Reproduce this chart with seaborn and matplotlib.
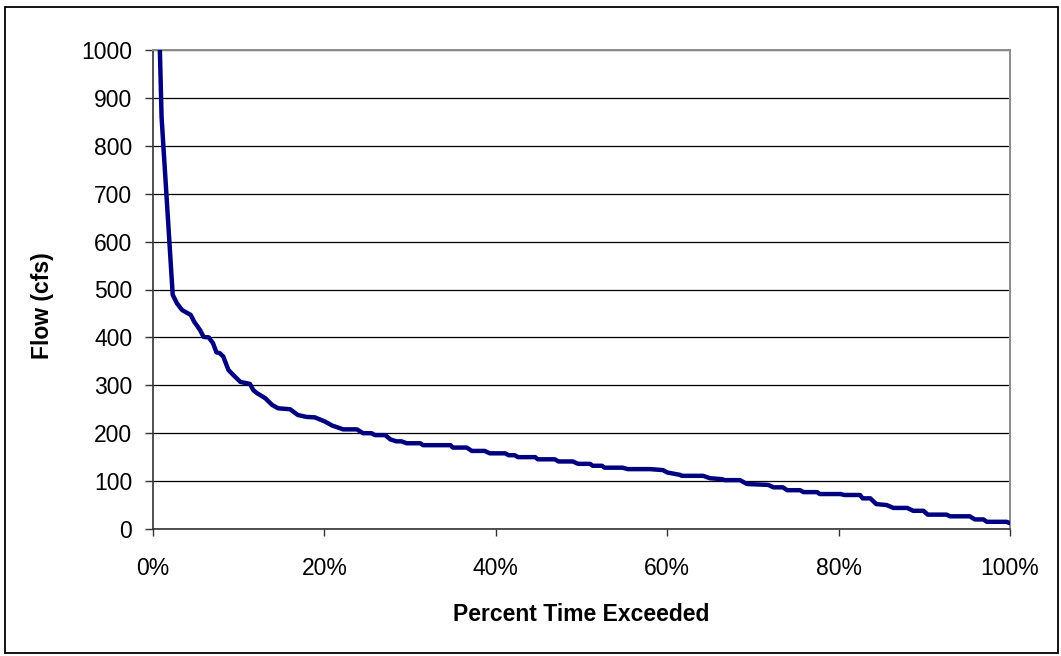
import matplotlib
matplotlib.use("Agg")
import matplotlib.pyplot as plt
import seaborn as sns
import pandas as pd
from matplotlib.ticker import PercentFormatter
from matplotlib.patches import Rectangle

# ---- data ----
pct_exceeded = [0.0, 1.0, 2.3, 2.8, 3.4, 4.4, 4.8, 5.5, 5.9, 6.5, 7.0, 7.4, 7.8, 8.2,
                8.8, 9.4, 10.2, 11.3, 11.7, 12.1, 13.1, 13.9, 14.6, 16.0, 16.9, 17.9,
                18.9, 20.1, 20.9, 22.2, 23.8, 24.5, 25.5, 25.9, 27.1, 27.7, 28.4, 29.0,
                29.6, 31.2, 31.5, 34.7, 35.0, 36.6, 37.2, 38.7, 39.3, 41.1, 41.5, 42.2,
                42.6, 44.6, 44.9, 46.9, 47.3, 49.0, 49.6, 51.0, 51.3, 52.4, 52.7, 54.8,
                55.4, 58.0, 59.5, 60.0, 61.5, 61.7, 64.2, 65.0, 66.4, 66.7, 68.5, 69.3,
                71.8, 72.4, 73.5, 74.0, 75.5, 75.9, 77.5, 77.8, 80.2, 80.7, 82.5, 82.8,
                83.7, 84.4, 85.6, 86.4, 88.0, 88.7, 89.9, 90.4, 92.6, 93.0, 95.3, 95.9,
                96.9, 97.3, 99.6, 100.0]
flow_cfs = [1570, 860, 489, 471, 457, 447, 433, 415, 401, 400, 388, 369, 367, 360,
            332, 321, 307, 303, 290, 284, 273, 259, 252, 250, 238, 234,
            233, 224, 216, 208, 208, 200, 200, 196, 196, 187, 183, 183,
            179, 179, 175, 175, 170, 170, 163, 163, 158, 158, 154, 154,
            150, 150, 145.5, 145.5, 141, 141, 136, 136, 132, 132, 128, 128,
            125, 125, 123, 118, 113, 111, 111, 106, 104, 102, 102, 94,
            92, 87, 87, 81, 81, 77, 77, 73, 73, 71, 71, 64,
            64, 52, 50, 44, 44, 38, 38, 30, 30, 26.5, 26.5, 20,
            20, 15, 15, 12]
x_ticks = [0, 20, 40, 60, 80, 100]
y_ticks = [0, 100, 200, 300, 400, 500, 600, 700, 800, 900, 1000]
x_title = "Percent Time Exceeded"
y_title = "Flow (cfs)"

df = pd.DataFrame({"pct": pct_exceeded, "flow": flow_cfs})

sns.set_theme(style="white")
plt.rcParams['font.family'] = ['Liberation Sans', 'DejaVu Sans']

fig = plt.figure(figsize=(10.61, 6.56), dpi=100)
ax = fig.add_axes([153/1061, 1 - 529/656, 857/1061, 479/656])

sns.lineplot(data=df, x="pct", y="flow", ax=ax, sort=False, estimator=None,
             color="#000080", linewidth=3.2, zorder=3)

ax.set_xlim(0, 100)
ax.set_ylim(0, 1000)
ax.set_xticks(x_ticks)
ax.set_yticks(y_ticks)
ax.xaxis.set_major_formatter(PercentFormatter(decimals=0))

ax.grid(axis="y", color="black", linewidth=0.9, zorder=1)
ax.grid(axis="x", visible=False)

for side in ["top", "right"]:
    ax.spines[side].set_color("#8c8c8c")
    ax.spines[side].set_linewidth(1.4)
for side in ["left", "bottom"]:
    ax.spines[side].set_color("#333333")
    ax.spines[side].set_linewidth(1.2)

ax.tick_params(axis="y", direction="out", length=6, width=1, color="#333333",
               labelsize=16.5, pad=9, left=True, labelcolor="black")
ax.tick_params(axis="x", direction="out", length=5, width=1, color="#333333",
               labelsize=16.5, pad=15, bottom=True, labelcolor="black")

ax.set_xlabel(x_title, fontsize=16.5, fontweight="bold", color="black")
ax.set_ylabel(y_title, fontsize=16.5, fontweight="bold", color="black")
ax.xaxis.set_label_coords(0.5, (529 - 603) / 479)
ax.yaxis.set_label_coords((54 - 153) / 857, 0.466)

# outer chart border
fig.patches.append(Rectangle((5/1061, 1 - 653/656), (1058 - 5)/1061, (653 - 7)/656,
                             transform=fig.transFigure, fill=False,
                             edgecolor="black", linewidth=1.3))

fig.savefig("out.png", dpi=100)
